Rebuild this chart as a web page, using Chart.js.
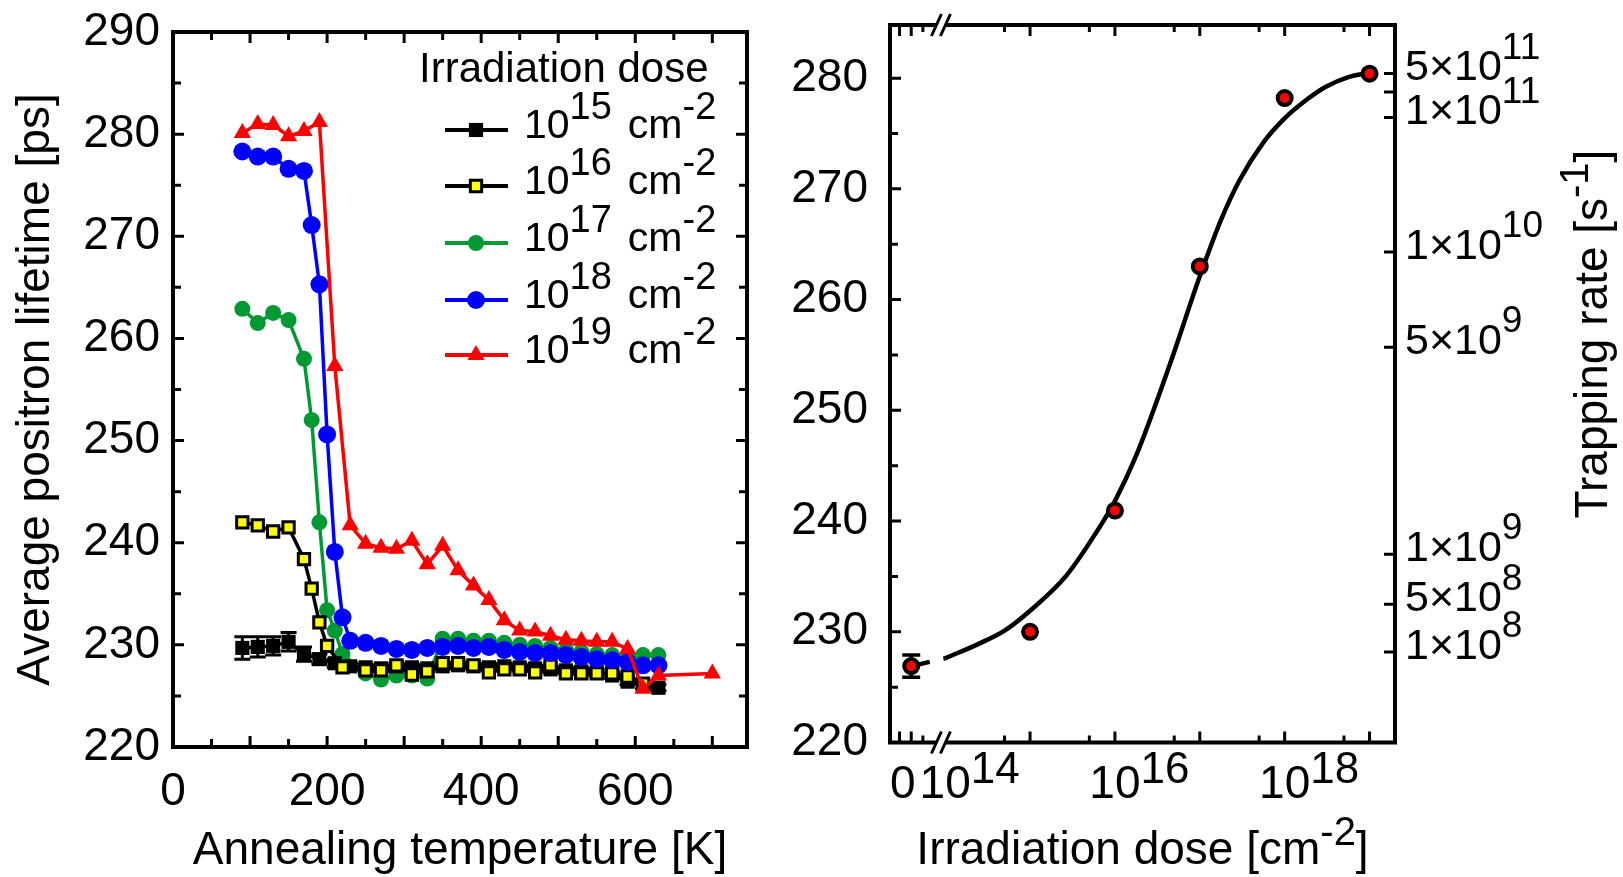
<!DOCTYPE html>
<html>
<head>
<meta charset="utf-8">
<script src="https://cdn.jsdelivr.net/npm/chart.js"></script>
<style>
  body { margin: 0; background: #fff; width: 1623px; height: 877px; overflow: hidden; }
  canvas { position: absolute; top: 0; }
  #annealChart { left: 0; }
  #doseChart { left: 740px; }
</style>
</head>
<body>
<canvas id="annealChart" width="800" height="877"></canvas>
<canvas id="doseChart" width="883" height="877"></canvas>
<script>
const FONT = '"Liberation Sans", Arial, Helvetica, sans-serif';
const R_OFF = 740; // page x of the right canvas

// ---------- left panel: average lifetime vs annealing temperature ----------
const temp15 = [90,110,130,150,170,190,210,230,250,270,290,310,330,350,370,390,410,430,450,470,490,510,530,550,570,590,610,630];
const life15 = [229.7,229.8,229.9,230.3,229.1,228.6,228.2,227.9,227.8,227.7,227.9,227.8,227.7,227.9,228.0,227.9,227.8,227.9,227.8,227.7,227.6,227.5,227.4,227.3,227.0,226.4,226.0,225.8];
const err15  = [1.1,1.0,0.9,0.9,0.7,0.5,0.4,0.3,0.3,0.3,0.3,0.3,0.3,0.3,0.3,0.3,0.3,0.3,0.3,0.3,0.3,0.3,0.3,0.3,0.3,0.3,0.3,0.3];

const temp16 = [90,110,130,150,170,180,190,200,220,250,270,290,310,330,350,370,390,410,430,450,470,490,510,530,550,570,590,610];
const life16 = [242.0,241.7,241.1,241.5,238.4,235.5,232.2,229.9,227.8,227.5,227.5,228.0,227.1,227.4,228.2,228.2,228.0,227.3,227.6,227.6,227.3,228.0,227.2,227.2,227.2,227.2,226.9,226.2];

const temp17 = [90,110,130,150,170,180,190,200,210,220,250,270,290,310,330,350,370,390,410,430,450,470,490,510,530,550,570,590,610,630];
const life17 = [262.9,261.5,262.5,261.8,258.0,252.0,242.0,233.4,231.4,229.1,227.2,226.6,227.0,227.0,226.7,230.6,230.6,230.4,230.4,230.2,230.0,229.9,229.7,229.5,229.3,229.1,229.0,228.8,229.0,229.0];

const temp18 = [90,110,130,150,170,180,190,200,210,220,230,250,270,290,310,330,350,370,390,410,430,450,470,490,510,530,550,570,590,610,630];
const life18 = [278.3,277.8,277.8,276.6,276.4,271.1,265.3,250.6,239.1,232.7,230.4,230.2,229.9,229.6,229.5,229.7,229.8,229.9,229.7,229.8,229.5,229.3,229.2,229.2,229.0,228.8,228.6,228.5,228.3,228.0,228.0];

const temp19 = [90,110,130,150,170,190,210,230,250,270,290,310,330,350,370,390,410,430,450,470,490,510,530,550,570,590,610,630,700];
const life19 = [280.1,281.0,280.9,279.8,280.3,281.2,257.3,241.7,239.9,239.5,239.4,240.2,237.9,239.7,237.3,235.8,234.4,232.4,231.4,231.3,230.9,230.5,230.4,230.3,230.3,229.6,225.7,227.0,227.2];

const legendExp = ['15', '16', '17', '18', '19'];
const tempTicks = [0, 200, 400, 600];
const lifeTicks = [220, 230, 240, 250, 260, 270, 280, 290];

// ---------- right panel: lifetime vs irradiation dose ----------
const doses    = [0, 1e15, 1e16, 1e17, 1e18, 1e19];
const doseLife = [226.9, 230.0, 240.95, 263.0, 278.2, 280.4];
const doseErr  = [1.0, 0, 0, 0, 0, 0];
// fitted curve (exponent of dose, lifetime)
const fitExp  = [14.0, 14.42, 14.7, 15.0, 15.43, 15.84, 16.0, 16.25, 16.65, 17.0, 17.25, 17.47, 17.75, 17.99, 18.25, 18.48, 18.75, 19.0];
const fitLife = [227.6, 229.0, 230.1, 231.9, 235.1, 239.7, 241.8, 245.9, 254.2, 262.1, 267.2, 270.8, 274.2, 276.3, 278.0, 279.2, 280.1, 280.5];
const doseLabelExp = ['14', '16', '18'];
const doseLifeTicks = [220, 230, 240, 250, 260, 270, 280];
// trapping rate axis (right side), placed at the matching lifetime
const trapLife = [280.42, 278.76, 276.45, 264.31, 255.7, 237.0, 232.48, 228.18];
const trapMant = ['5', '', '1', '1', '5', '1', '5', '1'];
const trapExp  = ['11', '', '11', '10', '9', '9', '8', '8'];

// broken axis: dose 0 sits left of the break
const ZERO_POS = 13.6;
const BREAK_POS = 13.95;
const doseToAxis = d => d > 0 ? Math.log10(d) : ZERO_POS;

function xy(xs, ys) { return xs.map((x, i) => ({ x: x, y: ys[i] })); }

// text with superscripts, y is the middle of the base text
// seg = [text, isSup, extraGapBefore]
function drawRich(ctx, segs, x, y, o) {
  let w = 0;
  segs.forEach(s => { ctx.font = (s[1] ? o.sup : o.size) + 'px ' + FONT; w += ctx.measureText(s[0]).width + (s[2] || 0); });
  let cx = x;
  if (o.align === 'center') cx = x - w / 2;
  if (o.align === 'right') cx = x - w;
  if (o.align === 'base') { ctx.font = o.size + 'px ' + FONT; cx = x - ctx.measureText(segs[0][0]).width / 2; }
  ctx.fillStyle = '#000';
  ctx.textAlign = 'left';
  ctx.textBaseline = 'middle';
  segs.forEach(s => {
    ctx.font = (s[1] ? o.sup : o.size) + 'px ' + FONT;
    cx += s[2] || 0;
    ctx.fillText(s[0], cx, s[1] ? y - o.raise : y);
    cx += ctx.measureText(s[0]).width;
  });
}

function marker(ctx, ds, x, y) {
  const r = ds.pointRadius;
  ctx.beginPath();
  if (ds.pointStyle === 'rect') {
    const h = r * Math.SQRT1_2;
    ctx.rect(x - h, y - h, 2 * h, 2 * h);
  } else if (ds.pointStyle === 'triangle') {
    for (let k = 0; k < 3; k++) {
      const ang = k * 2 * Math.PI / 3;
      const px = x + Math.sin(ang) * r, py = y - Math.cos(ang) * r;
      if (k === 0) ctx.moveTo(px, py); else ctx.lineTo(px, py);
    }
    ctx.closePath();
  } else {
    ctx.arc(x, y, r, 0, Math.PI * 2);
  }
  ctx.fillStyle = ds.pointBackgroundColor;
  ctx.fill();
  if (ds.pointBorderWidth) {
    ctx.lineWidth = ds.pointBorderWidth;
    ctx.strokeStyle = ds.pointBorderColor;
    ctx.stroke();
  }
}

// inward tick marks on the frame
function ticksX(ctx, chart, vals, len, top, bottom) {
  const a = chart.chartArea, sx = chart.scales.x;
  ctx.beginPath();
  vals.forEach(v => {
    const px = sx.getPixelForValue(v);
    if (bottom) { ctx.moveTo(px, a.bottom); ctx.lineTo(px, a.bottom - len); }
    if (top) { ctx.moveTo(px, a.top); ctx.lineTo(px, a.top + len); }
  });
  ctx.stroke();
}
function ticksY(ctx, chart, vals, len, left, right) {
  const a = chart.chartArea, sy = chart.scales.y;
  ctx.beginPath();
  vals.forEach(v => {
    const py = sy.getPixelForValue(v);
    if (left) { ctx.moveTo(a.left, py); ctx.lineTo(a.left + len, py); }
    if (right) { ctx.moveTo(a.right, py); ctx.lineTo(a.right - len, py); }
  });
  ctx.stroke();
}

// fixed axis box, no extra room for overhanging labels
function fixBox(w, h) {
  return s => {
    if (w !== null) s.width = w;
    if (h !== null) s.height = h;
    s.paddingTop = 0; s.paddingBottom = 0; s.paddingLeft = 0; s.paddingRight = 0;
  };
}

const tickFont = { family: FONT, size: 46, lineHeight: 1 };

// ---------------- left chart ----------------
const annealDecor = {
  id: 'annealDecor',
  beforeDatasetsDraw(chart) {
    const ctx = chart.ctx, sy = chart.scales.y;
    const meta = chart.getDatasetMeta(0);
    ctx.save();
    ctx.strokeStyle = '#000';
    ctx.lineWidth = 3;
    ctx.beginPath();
    meta.data.forEach((pt, i) => {
      const y1 = sy.getPixelForValue(life15[i] + err15[i]);
      const y2 = sy.getPixelForValue(life15[i] - err15[i]);
      ctx.moveTo(pt.x, y1); ctx.lineTo(pt.x, y2);
      ctx.moveTo(pt.x - 8, y1); ctx.lineTo(pt.x + 8, y1);
      ctx.moveTo(pt.x - 8, y2); ctx.lineTo(pt.x + 8, y2);
    });
    ctx.stroke();
    ctx.restore();
  },
  afterDraw(chart) {
    const ctx = chart.ctx, a = chart.chartArea;
    ctx.save();
    ctx.strokeStyle = '#000';
    ctx.lineWidth = 4;
    ctx.strokeRect(a.left, a.top, a.right - a.left, a.bottom - a.top);
    ctx.lineWidth = 3;
    ticksX(ctx, chart, [100, 200, 300, 400, 500, 600, 700], 11, true, true);
    ticksX(ctx, chart, [50, 150, 250, 350, 450, 550, 650], 8, true, true);
    ticksY(ctx, chart, [230, 240, 250, 260, 270, 280], 11, true, true);
    ticksY(ctx, chart, [225, 235, 245, 255, 265, 275, 285], 8, true, true);

    // legend
    ctx.font = '42px ' + FONT;
    ctx.fillStyle = '#000';
    ctx.textAlign = 'left';
    ctx.textBaseline = 'middle';
    ctx.fillText('Irradiation dose', 419, 70);
    const rowY = [130, 186, 243, 300, 355];
    chart.data.datasets.forEach((ds, i) => {
      const y = rowY[i];
      ctx.strokeStyle = ds.borderColor;
      ctx.lineWidth = 4;
      ctx.beginPath(); ctx.moveTo(445, y); ctx.lineTo(508, y); ctx.stroke();
      marker(ctx, ds, 476, y);
      drawRich(ctx, [['10', 0], [legendExp[i], 1], ['cm', 0, 16], ['-2', 1]], 524, y - 3,
        { size: 41, sup: 38, raise: 18 });
    });

    // axis titles
    drawRich(ctx, [['Annealing temperature [K]', 0]], (a.left + a.right) / 2, 851, { size: 46, sup: 40, raise: 0, align: 'center' });
    ctx.save();
    ctx.translate(36, (a.top + a.bottom) / 2);
    ctx.rotate(-Math.PI / 2);
    drawRich(ctx, [['Average positron lifetime [ps]', 0]], 0, 0, { size: 46, sup: 40, raise: 0, align: 'center' });
    ctx.restore();
    ctx.restore();
  }
};

const annealChart = new Chart('annealChart', {
  type: 'line',
  data: {
    datasets: [
      { label: '1e15', data: xy(temp15, life15), borderColor: '#000000', borderWidth: 3.5,
        pointStyle: 'rect', pointRadius: 10, pointBackgroundColor: '#000000', pointBorderColor: '#000000', pointBorderWidth: 0, order: 4 },
      { label: '1e16', data: xy(temp16, life16), borderColor: '#000000', borderWidth: 3.5,
        pointStyle: 'rect', pointRadius: 8, pointBackgroundColor: '#ffff00', pointBorderColor: '#000000', pointBorderWidth: 3, order: 3 },
      { label: '1e17', data: xy(temp17, life17), borderColor: '#009933', borderWidth: 3.5,
        pointStyle: 'circle', pointRadius: 8, pointBackgroundColor: '#009933', pointBorderColor: '#009933', pointBorderWidth: 0, order: 5 },
      { label: '1e18', data: xy(temp18, life18), borderColor: '#0000ff', borderWidth: 3.5,
        pointStyle: 'circle', pointRadius: 9, pointBackgroundColor: '#0000ff', pointBorderColor: '#0000ff', pointBorderWidth: 0, order: 2 },
      { label: '1e19', data: xy(temp19, life19), borderColor: '#ff0000', borderWidth: 3.5,
        pointStyle: 'triangle', pointRadius: 10, pointBackgroundColor: '#ff0000', pointBorderColor: '#ff0000', pointBorderWidth: 0, order: 1 }
    ]
  },
  options: {
    responsive: false,
    animation: false,
    devicePixelRatio: 1,
    layout: { padding: { left: 0, top: 32, right: 53, bottom: 0 } },
    plugins: { legend: { display: false }, tooltip: { enabled: false } },
    scales: {
      x: {
        type: 'linear', min: 0, max: 745,
        afterFit: fixBox(null, 130),
        afterBuildTicks: s => { s.ticks = tempTicks.map(v => ({ value: v })); },
        grid: { display: false, drawTicks: false },
        border: { display: false },
        ticks: { color: '#000', font: tickFont, padding: 22, maxRotation: 0, minRotation: 0, autoSkip: false }
      },
      y: {
        type: 'linear', min: 220, max: 290,
        afterFit: fixBox(173, null),
        afterBuildTicks: s => { s.ticks = lifeTicks.map(v => ({ value: v })); },
        grid: { display: false, drawTicks: false },
        border: { display: false },
        ticks: { color: '#000', font: tickFont, padding: 13, autoSkip: false }
      }
    }
  },
  plugins: [annealDecor]
});

// ---------------- right chart ----------------
const doseDecor = {
  id: 'doseDecor',
  beforeDatasetsDraw(chart) {
    const ctx = chart.ctx, sx = chart.scales.x, sy = chart.scales.y;
    ctx.save();
    ctx.strokeStyle = '#000';
    ctx.lineWidth = 3.5;
    ctx.beginPath();
    doses.forEach((d, i) => {
      if (!doseErr[i]) return;
      const px = sx.getPixelForValue(doseToAxis(d));
      const y1 = sy.getPixelForValue(doseLife[i] + doseErr[i]);
      const y2 = sy.getPixelForValue(doseLife[i] - doseErr[i]);
      ctx.moveTo(px, y1); ctx.lineTo(px, y2);
      ctx.moveTo(px - 9, y1); ctx.lineTo(px + 9, y1);
      ctx.moveTo(px - 9, y2); ctx.lineTo(px + 9, y2);
    });
    ctx.stroke();
    ctx.restore();
  },
  afterDraw(chart) {
    const ctx = chart.ctx, a = chart.chartArea, sx = chart.scales.x, sy = chart.scales.y;
    ctx.save();
    ctx.strokeStyle = '#000';
    ctx.lineWidth = 4;
    ctx.strokeRect(a.left, a.top, a.right - a.left, a.bottom - a.top);
    ctx.lineWidth = 3;
    const decades = [15, 16, 17, 18, 19];
    ticksX(ctx, chart, [ZERO_POS - 0.1375, ZERO_POS].concat(decades), 11, true, true);
    ticksX(ctx, chart, [ZERO_POS + 0.1375].concat([14, 15, 16, 17, 18].map(e => e + Math.log10(5))), 7, true, true);
    ticksY(ctx, chart, [230, 240, 250, 260, 270, 280], 11, true, false);
    ticksY(ctx, chart, [225, 235, 245, 255, 265, 275], 8, true, false);
    ticksY(ctx, chart, trapLife, 11, false, true);

    // axis break marks
    const bx = sx.getPixelForValue(BREAK_POS);
    [a.top, a.bottom].forEach(yb => {
      ctx.fillStyle = '#fff';
      ctx.fillRect(bx - 5, yb - 3, 10, 6);
      ctx.beginPath();
      [-4.5, 4.5].forEach(off => {
        ctx.moveTo(bx + off - 5, yb + 11);
        ctx.lineTo(bx + off + 5, yb - 11);
      });
      ctx.stroke();
    });

    // x tick labels
    const ly = 785;
    drawRich(ctx, [['0', 0]], sx.getPixelForValue(ZERO_POS - 0.1), ly, { size: 46, sup: 44, raise: 14, align: 'base' });
    doseLabelExp.forEach(e => {
      drawRich(ctx, [['10', 0], [e, 1]], sx.getPixelForValue(Number(e)), ly, { size: 46, sup: 44, raise: 14, align: 'base' });
    });

    // trapping rate labels
    trapLife.forEach((v, i) => {
      if (!trapMant[i]) return;
      drawRich(ctx, [[trapMant[i] + '\u00d710', 0], [trapExp[i], 1]], a.right + 10, sy.getPixelForValue(v) - 5,
        { size: 43, sup: 37, raise: 20 });
    });

    // axis titles
    drawRich(ctx, [['Irradiation dose [cm', 0], ['-2', 1], [']', 0]], (a.left + a.right) / 2, 851,
      { size: 46, sup: 40, raise: 17, align: 'center' });
    ctx.save();
    ctx.translate(1594 - R_OFF, 334);
    ctx.rotate(-Math.PI / 2);
    drawRich(ctx, [['Trapping rate [s', 0], ['-1', 1], [']', 0]], 0, 0, { size: 46, sup: 40, raise: 17, align: 'center' });
    ctx.restore();
    ctx.restore();
  }
};

const doseChart = new Chart('doseChart', {
  type: 'line',
  data: {
    datasets: [
      { label: 'measured', data: xy(doses.map(doseToAxis), doseLife), showLine: false,
        pointStyle: 'circle', pointRadius: 7, pointBackgroundColor: '#ff0000', pointBorderColor: '#000000', pointBorderWidth: 4, order: 1 },
      { label: 'fit', data: xy(fitExp, fitLife), borderColor: '#000000', borderWidth: 4.5,
        pointRadius: 0, cubicInterpolationMode: 'monotone', order: 2 },
      { label: 'fit to zero dose', data: xy([doseToAxis(doses[0]), fitExp[0]], [doseLife[0], fitLife[0]]),
        borderColor: '#000000', borderWidth: 4.5, borderDash: [19, 14], pointRadius: 0, order: 3 }
    ]
  },
  options: {
    responsive: false,
    animation: false,
    devicePixelRatio: 1,
    layout: { padding: { left: 0, top: 25, right: 883 - (1395 - R_OFF), bottom: 134.5 } },
    plugins: { legend: { display: false }, tooltip: { enabled: false } },
    scales: {
      x: { type: 'linear', min: 13.35, max: 19.3, display: false },
      y: {
        type: 'linear', min: 220, max: 284.8,
        afterFit: fixBox(890 - R_OFF, null),
        afterBuildTicks: s => { s.ticks = doseLifeTicks.map(v => ({ value: v })); },
        grid: { display: false, drawTicks: false },
        border: { display: false },
        ticks: { color: '#000', font: tickFont, padding: 22, autoSkip: false }
      }
    }
  },
  plugins: [doseDecor]
});
</script>
</body>
</html>
